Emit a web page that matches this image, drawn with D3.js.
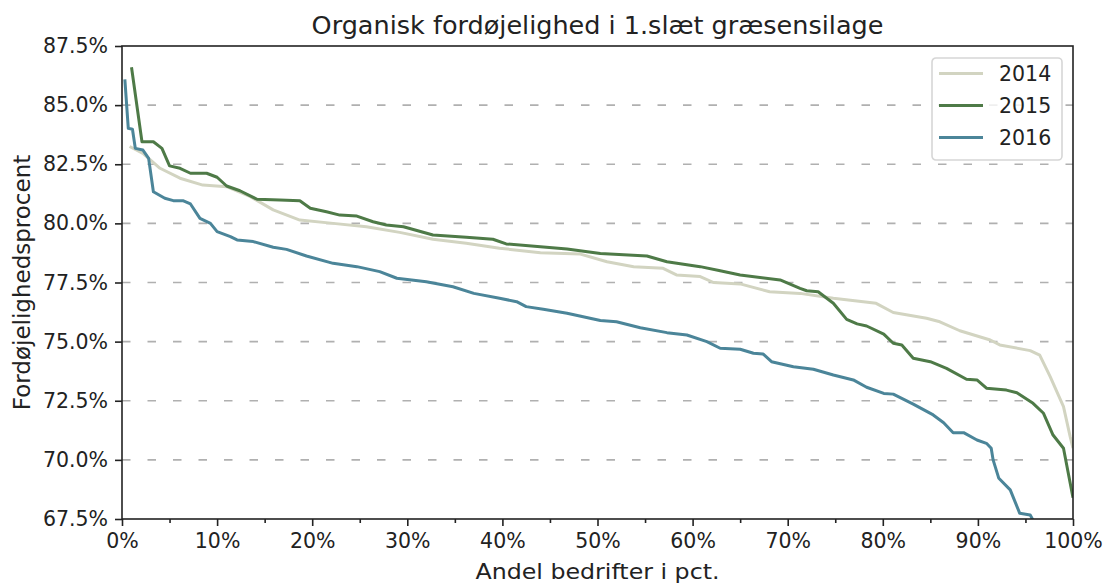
<!DOCTYPE html>
<html>
<head>
<meta charset="utf-8">
<script src="https://cdn.jsdelivr.net/npm/d3@7"></script>
<style>
  body { margin: 0; background: #fff; }
  text { font-family: "DejaVu Sans", sans-serif; fill: #222; }
</style>
</head>
<body>
<div id="chart"></div>
<script>
// Data (x = andel bedrifter i pct., y = fordøjelighed i pct.)
const x2014 = [0.8, 2.2, 4.0, 6.1, 8.5, 11.0, 13.5, 15.9, 18.7, 22.2, 25.7, 29.2, 32.7, 36.2, 39.7, 44.0, 48.2, 51.0, 53.8, 56.9, 58.3, 60.8, 62.2, 65.0, 68.1, 71.3, 74.8, 79.3, 81.1, 84.6, 86.0, 88.1, 91.3, 92.3, 95.5, 96.5, 97.6, 99.0, 99.7, 100];
const y2014 = [83.25, 82.96, 82.33, 81.91, 81.62, 81.55, 81.13, 80.57, 80.14, 80.0, 79.86, 79.62, 79.33, 79.16, 78.95, 78.76, 78.70, 78.38, 78.17, 78.10, 77.82, 77.75, 77.50, 77.44, 77.11, 77.04, 76.83, 76.62, 76.23, 75.99, 75.84, 75.46, 75.07, 74.86, 74.62, 74.43, 73.52, 72.25, 70.98, 70.5];

const x2015 = [1.0, 2.1, 3.3, 4.2, 5.0, 6.1, 7.2, 8.9, 10.0, 11.0, 12.4, 14.2, 16.6, 18.7, 19.8, 21.5, 22.9, 24.7, 26.4, 27.8, 29.6, 32.7, 36.2, 39.0, 40.4, 44.0, 46.8, 50.3, 55.2, 57.3, 60.8, 62.9, 65.0, 69.2, 71.3, 72.0, 73.2, 74.8, 76.2, 77.3, 78.3, 80.1, 81.1, 82.0, 83.2, 85.0, 86.7, 88.8, 89.9, 90.9, 93.0, 94.1, 95.8, 96.9, 97.9, 99.0, 100];
const y2015 = [86.6, 83.45, 83.45, 83.17, 82.43, 82.33, 82.12, 82.12, 81.95, 81.58, 81.38, 81.02, 80.99, 80.96, 80.64, 80.49, 80.35, 80.31, 80.07, 79.93, 79.86, 79.51, 79.41, 79.33, 79.13, 79.01, 78.92, 78.73, 78.62, 78.38, 78.17, 78.0, 77.82, 77.61, 77.25, 77.15, 77.11, 76.62, 75.94, 75.75, 75.66, 75.32, 74.93, 74.86, 74.30, 74.15, 73.87, 73.41, 73.38, 73.03, 72.95, 72.84, 72.39, 71.97, 71.05, 70.49, 68.4];

const x2016 = [0.3, 0.66, 1.1, 1.4, 2.2, 2.8, 3.3, 4.5, 5.4, 6.4, 7.2, 8.2, 9.3, 10.0, 11.4, 12.1, 13.8, 15.9, 17.3, 19.4, 22.2, 24.7, 27.1, 28.9, 32.0, 34.8, 37.0, 39.7, 41.5, 42.5, 44.3, 46.8, 50.3, 52.0, 54.5, 57.3, 59.4, 61.5, 62.9, 65.0, 66.4, 67.4, 68.3, 70.6, 72.7, 74.8, 76.9, 78.3, 80.1, 81.1, 83.2, 85.3, 86.4, 87.4, 88.5, 89.9, 90.9, 91.4, 91.6, 92.2, 93.4, 94.4, 95.5, 96.0, 97.0];
const y2016 = [86.09, 84.02, 83.98, 83.17, 83.1, 82.75, 81.34, 81.06, 80.96, 80.96, 80.82, 80.21, 80.0, 79.65, 79.44, 79.30, 79.23, 78.99, 78.90, 78.62, 78.31, 78.17, 77.96, 77.68, 77.53, 77.32, 77.04, 76.83, 76.69, 76.48, 76.37, 76.20, 75.89, 75.84, 75.59, 75.38, 75.28, 75.0, 74.72, 74.68, 74.51, 74.48, 74.15, 73.94, 73.83, 73.59, 73.38, 73.07, 72.81, 72.78, 72.36, 71.90, 71.57, 71.15, 71.15, 70.84, 70.70, 70.49, 70.0, 69.22, 68.73, 67.74, 67.67, 67.3, 66.5];

const years = ['2014', '2015', '2016'];
const colors = ['#d2d4c1', '#4e7a47', '#4b8599'];
const xTicks = [0, 10, 20, 30, 40, 50, 60, 70, 80, 90, 100];
const xMinor = [5, 15, 25, 35, 45, 55, 65, 75, 85, 95];
const yTicks = [67.5, 70.0, 72.5, 75.0, 77.5, 80.0, 82.5, 85.0, 87.5];

const series = [
  { year: years[0], color: colors[0], values: x2014.map((x, i) => ({ x, y: y2014[i] })) },
  { year: years[1], color: colors[1], values: x2015.map((x, i) => ({ x, y: y2015[i] })) },
  { year: years[2], color: colors[2], values: x2016.map((x, i) => ({ x, y: y2016[i] })) }
];

// Størrelse og marginer
const W = 1104, H = 586;
const margin = { top: 46, right: 31, bottom: 67, left: 122 };
const width = W - margin.left - margin.right;
const height = H - margin.top - margin.bottom;

const xScale = d3.scaleLinear().domain([0, 100]).range([0, width]);
const yScale = d3.scaleLinear().domain([67.5, 87.5]).range([height, 0]);

const svg = d3.select('#chart').append('svg')
  .attr('width', W)
  .attr('height', H);

const g = svg.append('g')
  .attr('transform', 'translate(' + margin.left + ',' + margin.top + ')');

g.append('clipPath').attr('id', 'clip')
  .append('rect').attr('width', width).attr('height', height);

// Gitterlinjer
g.selectAll('.grid')
  .data(yTicks.slice(1, -1))
  .enter().append('line')
  .attr('class', 'grid')
  .attr('x1', 0).attr('x2', width)
  .attr('y1', d => yScale(d)).attr('y2', d => yScale(d))
  .attr('stroke', '#b0b0b0')
  .attr('stroke-width', 1.6)
  .attr('stroke-dasharray', '8.5,17');

// Linjer
const line = d3.line()
  .x(d => xScale(d.x))
  .y(d => yScale(d.y));

g.append('g').attr('clip-path', 'url(#clip)')
  .selectAll('.serie')
  .data(series)
  .enter().append('path')
  .attr('class', 'serie')
  .attr('d', d => line(d.values))
  .attr('fill', 'none')
  .attr('stroke', d => d.color)
  .attr('stroke-width', 3)
  .attr('stroke-linejoin', 'round');

// Akser
g.append('g')
  .attr('transform', 'translate(0,' + height + ')')
  .call(d3.axisBottom(xScale).tickValues(xTicks).tickFormat(d => d + '%').tickSize(7).tickPadding(7));

g.append('g')
  .attr('transform', 'translate(0,' + height + ')')
  .call(d3.axisBottom(xScale).tickValues(xMinor).tickFormat('').tickSize(4));

g.append('g')
  .call(d3.axisLeft(yScale).tickValues(yTicks).tickFormat(d => d.toFixed(1) + '%').tickSize(7).tickPadding(7));

svg.selectAll('.tick text').attr('font-size', 20.5).attr('font-family', '"DejaVu Sans", sans-serif').attr('fill', '#222');
svg.selectAll('.tick line').attr('stroke', '#222').attr('stroke-width', 1.6);
svg.selectAll('.domain').remove();

// Ramme
g.append('rect')
  .attr('width', width).attr('height', height)
  .attr('fill', 'none')
  .attr('stroke', '#222')
  .attr('stroke-width', 1.6);

// Titel og aksetitler
svg.append('text')
  .attr('x', margin.left + width / 2)
  .attr('y', 34)
  .attr('text-anchor', 'middle')
  .attr('font-size', 25.5)
  .text('Organisk fordøjelighed i 1.slæt græsensilage');

svg.append('text')
  .attr('x', margin.left + width / 2)
  .attr('y', 579)
  .attr('text-anchor', 'middle')
  .attr('font-size', 22)
  .attr('textLength', 244)
  .attr('lengthAdjust', 'spacingAndGlyphs')
  .text('Andel bedrifter i pct.');

svg.append('text')
  .attr('transform', 'translate(30,' + (margin.top + height / 2) + ') rotate(-90)')
  .attr('text-anchor', 'middle')
  .attr('font-size', 23)
  .text('Fordøjelighedsprocent');

// Legend øverst til højre
const legend = g.append('g')
  .attr('transform', 'translate(' + (width - 141) + ',12)');

legend.append('rect')
  .attr('width', 130).attr('height', 102)
  .attr('rx', 4)
  .attr('fill', 'white').attr('fill-opacity', 0.8)
  .attr('stroke', '#d6d6d6').attr('stroke-width', 1.6);

const items = legend.selectAll('.legend-item')
  .data(series)
  .enter().append('g')
  .attr('class', 'legend-item')
  .attr('transform', (d, i) => 'translate(0,' + (15.5 + i * 32) + ')');

items.append('line')
  .attr('x1', 7).attr('x2', 51)
  .attr('stroke', d => d.color)
  .attr('stroke-width', 3);

items.append('text')
  .attr('x', 67).attr('y', 7)
  .attr('font-size', 20.5)
  .text(d => d.year);
</script>
</body>
</html>
